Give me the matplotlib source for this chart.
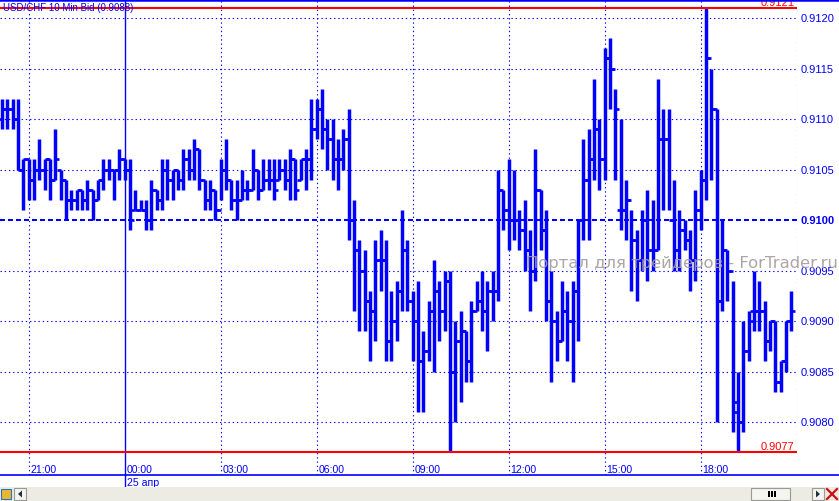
import numpy as np
import matplotlib
matplotlib.use("Agg")
import matplotlib.pyplot as plt
from matplotlib.transforms import blended_transform_factory
from matplotlib.patches import Rectangle, Polygon
from matplotlib.lines import Line2D

# USD/CHF 10 min bars, 20:10 -> 20:50 next day, prices in pips above 0.9000
high = [112, 112, 112, 112, 106, 106, 106, 108, 106, 106, 109, 105, 104, 103, 103, 103, 104, 103, 104, 106,
        106, 105, 107, 106, 106, 103, 102, 102, 104, 103, 106, 106, 105, 105, 107, 107, 108, 107, 104, 104,
        103, 106, 108, 104, 104, 105, 104, 107, 105, 106, 106, 106, 106, 106, 107, 106, 106, 107, 112, 112,
        113, 110, 110, 108, 109, 111, 102, 98, 97, 93, 98, 99, 98, 93, 94, 101, 98, 93, 94, 89,
        92, 96, 94, 95, 95, 90, 91, 89, 92, 94, 95, 94, 95, 105, 103, 106, 105, 101, 102, 99,
        107, 103, 101, 95, 91, 94, 93, 94, 100, 108, 109, 114, 110, 117, 118, 113, 110, 104, 101, 99,
        101, 103, 102, 114, 111, 111, 104, 101, 100, 99, 103, 105, 121, 115, 111, 100, 97, 94, 85, 90,
        91, 95, 94, 92, 90, 90, 86, 90, 93]
low = [109, 109, 109, 105, 101, 102, 102, 104, 103, 102, 104, 102, 100, 101, 101, 101, 101, 100, 102, 103,
       104, 102, 104, 104, 99, 101, 101, 99, 99, 101, 101, 102, 102, 103, 103, 104, 104, 103, 101, 101,
       100, 102, 103, 101, 100, 102, 102, 103, 102, 103, 103, 102, 104, 103, 102, 102, 104, 103, 104, 108,
       107, 105, 104, 103, 105, 98, 91, 89, 89, 86, 88, 93, 86, 86, 88, 91, 91, 86, 81, 81,
       86, 85, 88, 89, 77, 80, 82, 84, 84, 91, 89, 87, 90, 92, 99, 97, 98, 97, 95, 91,
       94, 97, 90, 84, 86, 88, 86, 84, 88, 98, 98, 104, 103, 104, 111, 104, 99, 98, 93, 92,
       95, 94, 95, 97, 101, 101, 95, 95, 97, 93, 94, 99, 102, 104, 80, 91, 92, 79, 77, 79,
       86, 89, 89, 86, 87, 83, 83, 85, 89]
opens = [110, 111, 111, 110, 105, 106, 104, 105, 105, 106, 104, 105, 104, 102, 102, 103, 102, 103, 102, 104,
         105, 105, 105, 106, 105, 101, 101, 101, 100, 103, 102, 105, 104, 105, 104, 106, 105, 107, 104, 102,
         103, 101, 105, 104, 102, 102, 103, 103, 105, 103, 104, 104, 104, 105, 104, 106, 104, 106, 106, 109,
         111, 109, 108, 106, 106, 108, 100, 97, 95, 92, 91, 96, 96, 88, 90, 93, 97, 92, 90, 86,
         87, 91, 93, 91, 94, 85, 88, 89, 86, 91, 92, 91, 93, 93, 103, 101, 100, 100, 99, 97,
         95, 103, 99, 92, 90, 88, 91, 90, 93, 100, 104, 106, 109, 106, 116, 115, 101, 101, 102, 98,
         96, 100, 97, 97, 108, 108, 100, 97, 99, 98, 96, 101, 104, 116, 111, 92, 97, 95, 82, 80,
         87, 91, 91, 91, 88, 90, 84, 86, 90]
closes = [111, 111, 110, 105, 106, 104, 105, 105, 106, 104, 106, 104, 102, 102, 103, 102, 103, 102, 104, 105,
          105, 105, 106, 105, 100, 101, 101, 100, 103, 102, 105, 104, 105, 104, 106, 105, 107, 104, 102, 103,
          101, 105, 104, 102, 102, 103, 103, 105, 103, 104, 104, 103, 105, 104, 106, 103, 106, 106, 109, 111,
          109, 108, 106, 106, 108, 100, 97, 95, 92, 91, 96, 96, 88, 90, 93, 97, 92, 90, 86, 87,
          91, 93, 91, 94, 85, 88, 89, 86, 91, 92, 91, 93, 93, 103, 101, 100, 100, 99, 97, 95,
          103, 99, 92, 90, 88, 91, 90, 93, 100, 104, 106, 109, 106, 116, 115, 111, 101, 102, 98, 96,
          100, 97, 97, 108, 108, 100, 97, 99, 98, 96, 101, 104, 116, 111, 92, 97, 95, 81, 80, 87,
          90, 91, 91, 88, 90, 84, 86, 90, 91]

price_levels = [0.9080, 0.9085, 0.9090, 0.9095, 0.9100, 0.9105, 0.9110, 0.9115, 0.9120]
hi_mark, lo_mark = 0.9121, 0.9077
time_ticks = [5, 23, 41, 59, 77, 95, 113, 131]
time_labels = ["21:00", "00:00", "03:00", "06:00", "09:00", "12:00", "15:00", "18:00"]
day_tick, day_label = 23, "25 апр"

BLUE = "#0000ff"
RED = "#ff0000"
W, H = 839, 502

def to_price(v):
    return 0.9 + np.array(v) / 10000.0

hp, lp, op, cp = to_price(high), to_price(low), to_price(opens), to_price(closes)
idx = np.arange(len(high))

plt.rcParams["font.family"] = ["Liberation Sans", "DejaVu Sans"]
fig = plt.figure(figsize=(W / 100, H / 100), dpi=100)
fig.patch.set_facecolor("white")
ax = fig.add_axes([0, 1 - 476 / H, 797 / W, 476 / H])
ax.set_xlim(-0.375, 149.06)
ax.set_ylim(0.9120 - 457 / 101000, 0.9120 + 19 / 101000)
ax.set_axis_off()

# grid
for lvl in price_levels:
    if lvl == 0.9100:
        ax.axhline(lvl, color=BLUE, lw=1.44, ls=(0, (2.5, 1.5)), zorder=1)
    else:
        ax.axhline(lvl, color=BLUE, lw=0.8, ls=(0, (1.2, 2.6)), zorder=1)
for t in time_ticks:
    if t == day_tick:
        ax.axvline(t, ymin=-12 / 476, ymax=1, color=BLUE, lw=1.0, clip_on=False, zorder=1)
    else:
        ax.axvline(t, color=BLUE, lw=0.8, ls=(0, (1.2, 2.6)), zorder=1)
ax.axvline(149.06, color=BLUE, lw=0.8, ls=(0, (1.2, 2.6)), ymin=14 / 476, zorder=1)

# OHLC bars
ax.vlines(idx, lp, hp, colors=BLUE, lw=2.5, zorder=3)
ax.hlines(op, idx - 0.75, idx, colors=BLUE, lw=1.9, zorder=3)
ax.hlines(cp, idx, idx + 0.75, colors=BLUE, lw=1.9, zorder=3)

# high / low markers
ax.axhline(hi_mark, color=RED, lw=1.5, zorder=4)
ax.axhline(lo_mark, color=RED, lw=1.5, zorder=4)
tr = blended_transform_factory(ax.transAxes, ax.transData)
ax.text(0.997, hi_mark + 0.00001, f"{hi_mark:.4f}", transform=tr, color=RED, fontsize=8,
        ha="right", va="bottom", zorder=5)
ax.text(0.997, lo_mark + 0.00001, f"{lo_mark:.4f}", transform=tr, color=RED, fontsize=8,
        ha="right", va="bottom", zorder=5)

# price axis labels
for lvl in price_levels:
    ax.text(1.004, lvl, f"{lvl:.4f}", transform=tr, color=BLUE, fontsize=8, ha="left", va="center",
            fontweight="bold" if lvl == 0.9100 else "normal", clip_on=False)

# time axis labels
trx = blended_transform_factory(ax.transData, ax.transAxes)
for t, lab in zip(time_ticks, time_labels):
    ax.text(t + 0.35, 0.013, lab, transform=trx, color=BLUE, fontsize=7.6, ha="left", va="center")
ax.text(day_tick + 0.35, -0.014, day_label, transform=trx, color=BLUE, fontsize=7.6,
        ha="left", va="center", clip_on=False)

# watermark
ax.text(0.856, 0.90958, "Портал для трейдеров - ForTrader.ru", transform=tr,
        family="DejaVu Sans", fontsize=11.8, color="#a39b9b", alpha=0.9, ha="center", va="center",
        zorder=6, clip_on=False)

# title and frame lines
fig.text(3 / W, 1 - 8 / H, "USD/CHF 10 Min Bid (0.9088)", color=BLUE, fontsize=7, ha="left", va="center",
         zorder=10)
fig.add_artist(Line2D([0, 1], [1 - 0.8 / H, 1 - 0.8 / H], color=BLUE, lw=1.8))
fig.add_artist(Line2D([0, 1], [1 - 476 / H, 1 - 476 / H], color=BLUE, lw=1.2))

# bottom scroll bar
def px(x0, y0, w, h, **kw):
    return Rectangle((x0 / W, 1 - (y0 + h) / H), w / W, h / H, transform=fig.transFigure, **kw)

fig.add_artist(px(0, 488, W, 14, facecolor="#ecebe4", edgecolor="none"))
fig.add_artist(px(751, 489, 39, 12, facecolor="#f4f4f0", edgecolor="#9a9a94", lw=0.8))
for gx in (768, 771, 774):
    fig.add_artist(px(gx, 492, 1.6, 6, facecolor="black", edgecolor="none"))
fig.add_artist(px(812, 489, 12, 12, facecolor="#f4f4f0", edgecolor="#9a9a94", lw=0.8))
fig.add_artist(Polygon([[816 / W, 1 - 491.5 / H], [816 / W, 1 - 498.5 / H], [820 / W, 1 - 495 / H]],
                       closed=True, transform=fig.transFigure, facecolor="#203040", edgecolor="none"))
fig.add_artist(px(14, 489, 12, 12, facecolor="#f4f4f0", edgecolor="#9a9a94", lw=0.8))
fig.add_artist(Polygon([[22 / W, 1 - 491.5 / H], [22 / W, 1 - 498.5 / H], [18 / W, 1 - 495 / H]],
                       closed=True, transform=fig.transFigure, facecolor="#203040", edgecolor="none"))
fig.add_artist(px(1, 490, 10, 10, facecolor="#e8b830", edgecolor="#3070c0", lw=0.8))
fig.add_artist(Line2D([827 / W, 837 / W], [1 - 490 / H, 1 - 500 / H], color="#d01010", lw=1.6))
fig.add_artist(Line2D([827 / W, 837 / W], [1 - 500 / H, 1 - 490 / H], color="#d01010", lw=1.6))

fig.savefig("out.png", dpi=100)
